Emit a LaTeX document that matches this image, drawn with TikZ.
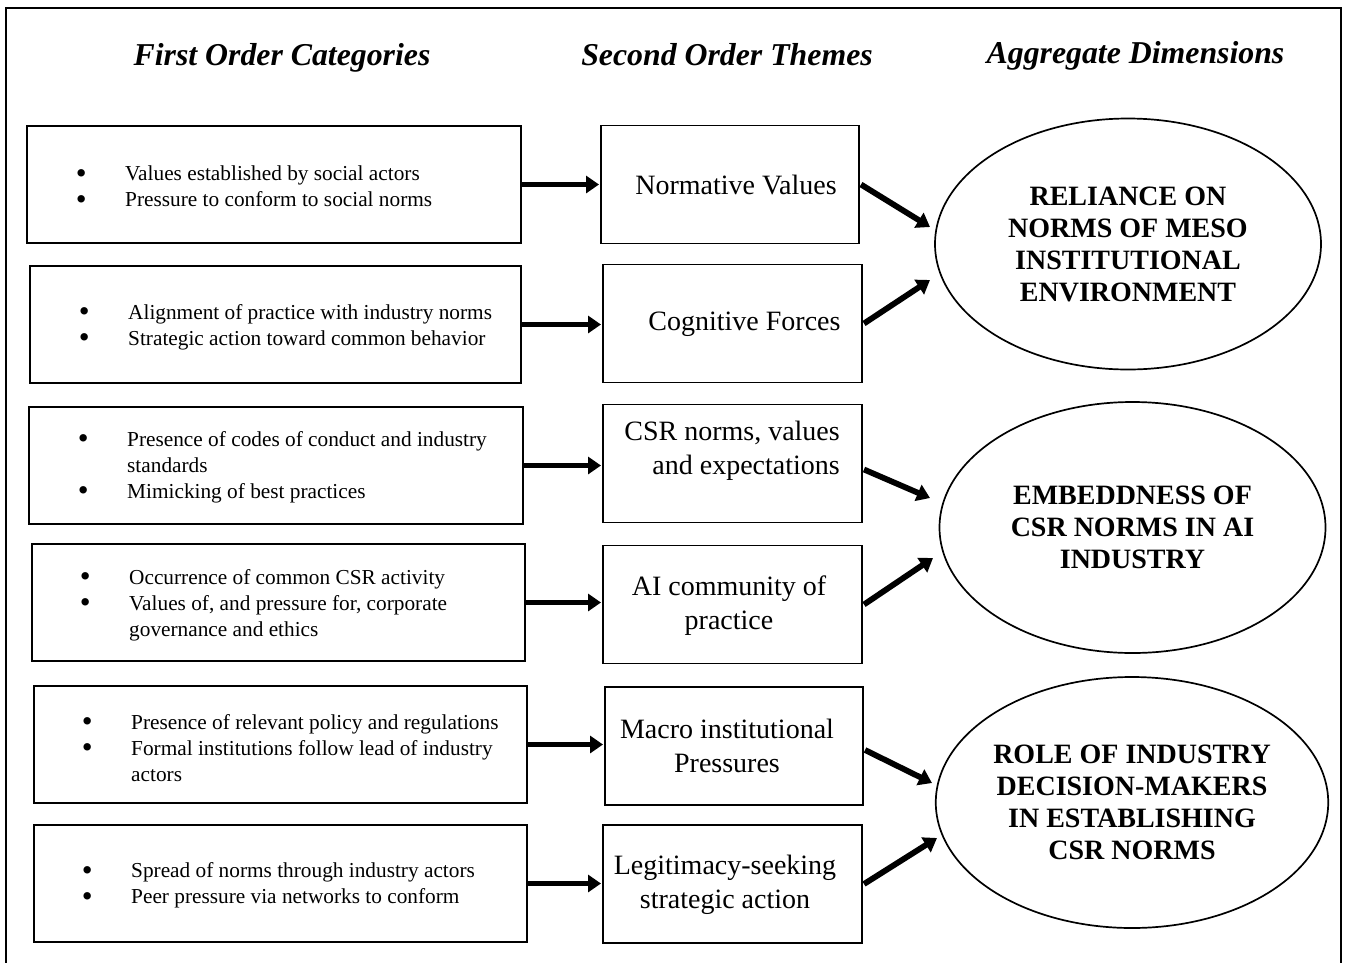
\documentclass[tikz,border=0pt]{standalone}
\usepackage{fontspec}
\usepackage{graphicx}
\setmainfont{Liberation Serif}
\usetikzlibrary{arrows.meta,shapes.geometric}
\newcommand\bigbul{\smash{\raisebox{-0.12em}{\scalebox{1.45}{\textbullet}}}}
\newcommand\bitem{\leavevmode\llap{\makebox[7.5pt]{\bigbul}\hspace{40.25pt}}}
\begin{document}
\begin{tikzpicture}[x=1pt,y=-1pt,
  frame/.style={line width=2.5pt},
  lbox/.style={draw,line width=1.9pt,minimum width=494pt,minimum height=117pt,inner sep=0pt,outer sep=0pt},
  mbox/.style={draw,line width=1.9pt,minimum width=258pt,minimum height=118pt,inner sep=0pt,outer sep=0pt},
  dim/.style={draw,ellipse,line width=1.7pt,minimum width=386pt,minimum height=251pt,inner sep=0pt,outer sep=0pt,
    align=center,font=\fontsize{28}{32}\selectfont\bfseries},
  head/.style={anchor=base,inner sep=0pt,font=\fontsize{31.8}{38}\selectfont\bfseries\itshape},
  btext/.style={anchor=west,inner sep=0pt,align=left,font=\fontsize{21.3}{26}\selectfont},
  mtext/.style={inner sep=0pt,align=center,font=\fontsize{28}{34}\selectfont},
  flow/.style={line width=5.8pt,-{Triangle[length=13pt,width=17pt]}}
]
\useasboundingbox (0,0) rectangle (1347,962);
\draw[frame] (6,975) -- (6,8) -- (1341,8) -- (1341,975);

% headers
\node[head] (h1) at (282,65) {First Order Categories};
\node[head] (h2) at (727,65) {Second Order Themes};
\node[head] (h3) at (1135.5,63) {Aggregate Dimensions};

% first order boxes
\node[lbox] (b1) at (274,184.5) {};
\node[lbox,minimum width=491pt] (b2) at (275.5,324.5) {};
\node[lbox] (b3) at (276,465.5) {};
\node[lbox,minimum width=493pt] (b4) at (278.5,602.5) {};
\node[lbox,minimum width=493pt] (b5) at (280.5,744.5) {};
\node[lbox,minimum width=493pt] (b6) at (280.5,883.5) {};

\node[btext] (bt1) at (125,186.5) {\bitem Values established by social actors\\\bitem Pressure to conform to social norms};
\node[btext] (bt2) at (128,327) {\bitem Alignment of practice with industry norms\\\bitem Strategic action toward common behavior};
\node[btext] (bt3) at (127,467) {\bitem Presence of codes of conduct and industry\\standards\\\bitem Mimicking of best practices};
\node[btext] (bt4) at (129,605) {\bitem Occurrence of common CSR activity\\\bitem Values of, and pressure for, corporate\\governance and ethics};
\node[btext] (bt5) at (131,748) {\bitem Presence of relevant policy and regulations\\\bitem Formal institutions follow lead of industry\\actors};
\node[btext] (bt6) at (131,885.5) {\bitem Spread of norms through industry actors\\\bitem Peer pressure via networks to conform};

% second order boxes
\node[mbox] (m1) at (730,184.5) {};
\node[mbox,minimum width=259pt] (m2) at (732.5,323.5) {};
\node[mbox,minimum width=259pt] (m3) at (732.5,463.5) {};
\node[mbox,minimum width=259pt] (m4) at (732.5,604.5) {};
\node[mbox] (m5) at (734,746) {};
\node[mbox,minimum width=259pt] (m6) at (732.5,884) {};

\node[mtext] (mt1) at (736,185) {Normative Values};
\node[mtext] (mt2) at (744.5,324) {Cognitive Forces};
\node[mtext,align=right,anchor=east] (mt3) at (840,451) {CSR norms, values\\and expectations};
\node[mtext] (mt4) at (729,606) {AI community of\\practice};
\node[mtext] (mt5) at (727,746) {Macro institutional\\Pressures};
\node[mtext] (mt6) at (725,884.5) {Legitimacy-seeking\\strategic action};

% aggregate dimensions
\node[dim] (e1) at (1128,244) {RELIANCE ON\\NORMS OF MESO\\INSTITUTIONAL\\ENVIRONMENT};
\node[dim] (e2) at (1132.5,527.5) {EMBEDDNESS OF\\CSR NORMS IN AI\\INDUSTRY};
\node[dim] (e3) at (1132,802.5) {ROLE OF INDUSTRY\\DECISION-MAKERS\\IN ESTABLISHING\\CSR NORMS};

% arrow tip points
\coordinate (t1) at (930,227);
\coordinate (t2) at (930,280);
\coordinate (t3) at (930,498);
\coordinate (t4) at (933,558);
\coordinate (t5) at (932,783);
\coordinate (t6) at (937,838);

% horizontal arrows
\foreach \i in {1,...,6}{
  \draw[flow,shorten >=2pt] (b\i.east) -- (b\i.east -| m\i.west);
}
% diagonal arrows
\draw[flow] ([xshift=2pt]m1.east) -- (t1);
\draw[flow] ([xshift=2pt]m2.east) -- (t2);
\draw[flow] ([xshift=2pt,yshift=-6pt]m3.east) -- (t3);
\draw[flow] ([xshift=2pt]m4.east) -- (t4);
\draw[flow] ([xshift=2pt,yshift=-4pt]m5.east) -- (t5);
\draw[flow] ([xshift=2pt]m6.east) -- (t6);
\end{tikzpicture}
\end{document}
